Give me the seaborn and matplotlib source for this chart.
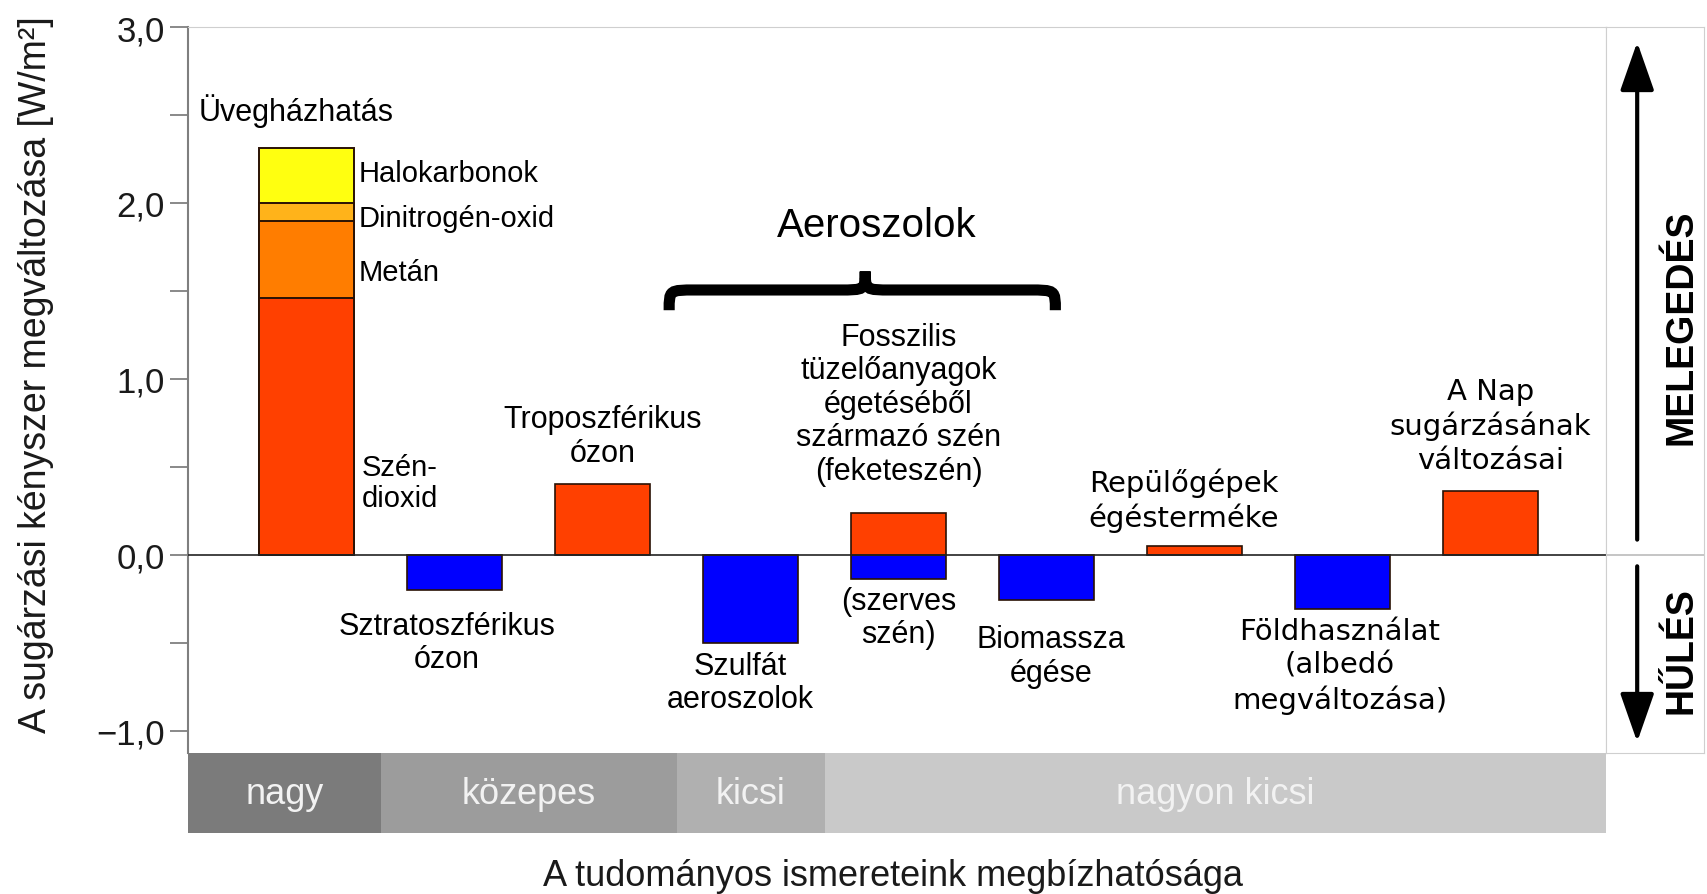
import numpy as np
import pandas as pd
import seaborn as sns
import matplotlib.pyplot as plt
from matplotlib.path import Path
from matplotlib.patches import PathPatch, ArrowStyle

# categories along the x axis (one slot per forcing agent)
categories = ['Üvegházhatás', 'Sztratoszférikus ózon', 'Troposzférikus ózon',
              'Szulfát aeroszolok', 'Fosszilis szén', 'Biomassza égése',
              'Repülőgépek', 'Földhasználat', 'Nap']

# stacked greenhouse bar (W/m2)
gh_parts = ['Szén-dioxid', 'Metán', 'Dinitrogén-oxid', 'Halokarbonok']
gh_values = [1.46, 0.44, 0.10, 0.31]
gh_colors = ['#ff4000', '#ff7d00', '#ffb31a', '#ffff10']

# the other bars (fossil fuel carbon has a warming and a cooling part)
bar_cats = ['Sztratoszférikus ózon', 'Troposzférikus ózon', 'Szulfát aeroszolok',
            'Fosszilis szén', 'Fosszilis szén', 'Biomassza égése',
            'Repülőgépek', 'Földhasználat', 'Nap']
bar_values = [-0.20, 0.40, -0.50, 0.24, -0.14, -0.26, 0.05, -0.31, 0.36]

# level of scientific understanding per category
confidence = ['nagy', 'közepes', 'közepes', 'kicsi', 'nagyon kicsi',
              'nagyon kicsi', 'nagyon kicsi', 'nagyon kicsi', 'nagyon kicsi']
confidence_colors = {'nagy': '#7b7b7b', 'közepes': '#9c9c9c',
                     'kicsi': '#b0b0b0', 'nagyon kicsi': '#c9c9c9'}

yticks = [3, 2, 1, 0, -1]
ytick_labels = ['3,0', '2,0', '1,0', '0,0', '\u22121,0']

XLIM = (-0.80, 8.78)
YLIM = (-1.13, 3.0)
FONT = 'Liberation Sans'
plt.rcParams['font.family'] = [FONT, 'DejaVu Sans']

fig = plt.figure(figsize=(17.07, 8.95), dpi=100)
ax = fig.add_axes([0.1103, 0.157, 0.8304, 0.8117])
ax_band = fig.add_axes([0.1103, 0.068, 0.8304, 0.089], sharex=ax)
ax_r = fig.add_axes([0.9407, 0.157, 0.0575, 0.8117], sharey=ax)

# greenhouse stack: draw cumulative tops, biggest first
df_gh = pd.DataFrame({'category': categories[0], 'part': gh_parts,
                      'top': np.cumsum(gh_values)})
sns.barplot(data=df_gh, x='category', y='top', hue='part',
            hue_order=gh_parts[::-1], order=categories,
            palette=dict(zip(gh_parts, gh_colors)), dodge=False, width=0.64,
            saturation=1, edgecolor='#2a1205', linewidth=1.4, errorbar=None,
            legend=False, ax=ax)

df_bars = pd.DataFrame({'category': bar_cats, 'value': bar_values})
df_bars['kind'] = np.where(df_bars['value'] > 0, 'warm', 'cool')
sns.barplot(data=df_bars, x='category', y='value', hue='kind', order=categories,
            palette={'warm': '#ff4000', 'cool': '#0000ff'}, dodge=False, width=0.64,
            saturation=1, edgecolor='#2a1205', linewidth=1.2, errorbar=None,
            legend=False, ax=ax)

ax.axhline(0, color='#222222', lw=1.2, zorder=3)
ax.set_xlim(*XLIM)
ax.set_ylim(*YLIM)
ax.set_xticks([])
ax.set_xlabel('')
ax.set_yticks(yticks)
ax.set_yticklabels(ytick_labels, fontsize=25, color='#1a1a1a')
ax.set_yticks(np.arange(-1, 3, 1) + 0.5, minor=True)
ax.tick_params(axis='y', which='both', length=13, width=1.3, color='#808080', pad=4)
ax.set_ylabel('A sugárzási kényszer megváltozása [W/m²]', fontsize=27,
              color='#1a1a1a')
ax.yaxis.set_label_coords(-0.095, 0.523)
for s in ['top', 'right']:
    ax.spines[s].set_color('#cfcfcf')
ax.spines['bottom'].set_visible(False)
ax.spines['left'].set_color('#7f7f7f')
ax.spines['left'].set_linewidth(1.5)

# labels next to the bars
ax.text(-0.73, 2.53, 'Üvegházhatás', fontsize=22, va='center', ha='left')
ax.text(0.35, 2.17, 'Halokarbonok', fontsize=21, va='center', ha='left')
ax.text(0.35, 1.915, 'Dinitrogén-oxid', fontsize=21, va='center', ha='left')
ax.text(0.35, 1.61, 'Metán', fontsize=21, va='center', ha='left')
ax.text(0.37, 0.41, 'Szén-\ndioxid', fontsize=21, va='center', ha='left', linespacing=1.15)

center_labels = [
    (2.0, 0.676, 'Troposzférikus\nózon'),
    (0.95, -0.50, 'Sztratoszférikus\nózon'),
    (4.0, 0.858, 'Fosszilis\ntüzelőanyagok\négetéséből\nszármazó szén\n(feketeszén)'),
    (4.0, -0.358, '(szerves\nszén)'),
    (2.93, -0.728, 'Szulfát\naeroszolok'),
    (5.03, -0.577, 'Biomassza\négése'),
]
for x, y, t in center_labels:
    ax.text(x, y, t, fontsize=22, ha='center', va='center', linespacing=1.15)

wide_labels = [
    (5.93, 0.313, 'Repülőgépek\négésterméke'),
    (6.98, -0.63, 'Földhasználat\n(albedó\nmegváltozása)'),
    (8.0, 0.737, 'A Nap\nsugárzásának\nváltozásai'),
]
for x, y, t in wide_labels:
    ax.text(x, y, t, fontsize=21, ha='center', va='center', linespacing=1.25,
            family='DejaVu Sans')

# aerosol brace
ax.text(3.85, 1.875, 'Aeroszolok', fontsize=29, ha='center', va='center')
x0, xc, x1 = 2.45, 3.775, 5.06
yb, ya, yt = 1.39, 1.505, 1.61
r = 0.18
verts = [(x0, yb), (x0, ya), (x0, ya), (x0 + r, ya),
         (xc - r, ya),
         (xc, ya), (xc, ya), (xc, yt),
         (xc, ya), (xc, ya), (xc + r, ya),
         (x1 - r, ya),
         (x1, ya), (x1, ya), (x1, yb)]
codes = [Path.MOVETO, Path.CURVE4, Path.CURVE4, Path.CURVE4,
         Path.LINETO,
         Path.CURVE4, Path.CURVE4, Path.CURVE4,
         Path.CURVE4, Path.CURVE4, Path.CURVE4,
         Path.LINETO,
         Path.CURVE4, Path.CURVE4, Path.CURVE4]
ax.add_patch(PathPatch(Path(verts, codes), fill=False, lw=8, color='black',
                       capstyle='butt', joinstyle='miter'))

# confidence band
pos = np.arange(len(categories))
groups = []
for i, c in enumerate(confidence):
    if groups and groups[-1][0] == c:
        groups[-1][2] = i
    else:
        groups.append([c, i, i])
for c, i0, i1 in groups:
    left = XLIM[0] if i0 == 0 else pos[i0] - 0.5
    right = XLIM[1] if i1 == len(categories) - 1 else pos[i1] + 0.5
    ax_band.barh(0, right - left, left=left, height=1, color=confidence_colors[c])
    ax_band.text((left + right) / 2, 0, c, fontsize=26, color='#f2f2f2',
                 ha='center', va='center')
ax_band.set_ylim(-0.5, 0.5)
ax_band.axis('off')

fig.text(0.523, 0.021, 'A tudományos ismereteink megbízhatósága', fontsize=26,
         ha='center', va='center', color='#1a1a1a')

# right panel: warming / cooling arrows
ax_r.set_xlim(0, 1)
ax_r.set_xticks([])
ax_r.tick_params(axis='y', which='both', left=False, right=False, labelleft=False)
for s in ax_r.spines.values():
    s.set_color('#cfcfcf')
ax_r.axhline(0, color='#bbbbbb', lw=1.2)
head = ArrowStyle('-|>', head_length=1.0, head_width=0.35)
ax_r.annotate('', xy=(0.32, 2.93), xytext=(0.32, 0.07),
              arrowprops=dict(arrowstyle=head, lw=3, color='black', mutation_scale=30))
ax_r.annotate('', xy=(0.32, -1.08), xytext=(0.32, -0.05),
              arrowprops=dict(arrowstyle=head, lw=3, color='black', mutation_scale=30))
ax_r.text(0.77, 1.30, 'MELEGEDÉS', rotation=90, fontsize=27, fontweight='bold',
          ha='center', va='center')
ax_r.text(0.77, -0.54, 'HŰLÉS', rotation=90, fontsize=27, fontweight='bold',
          ha='center', va='center')

fig.savefig('out.png', dpi=100, facecolor='white')
